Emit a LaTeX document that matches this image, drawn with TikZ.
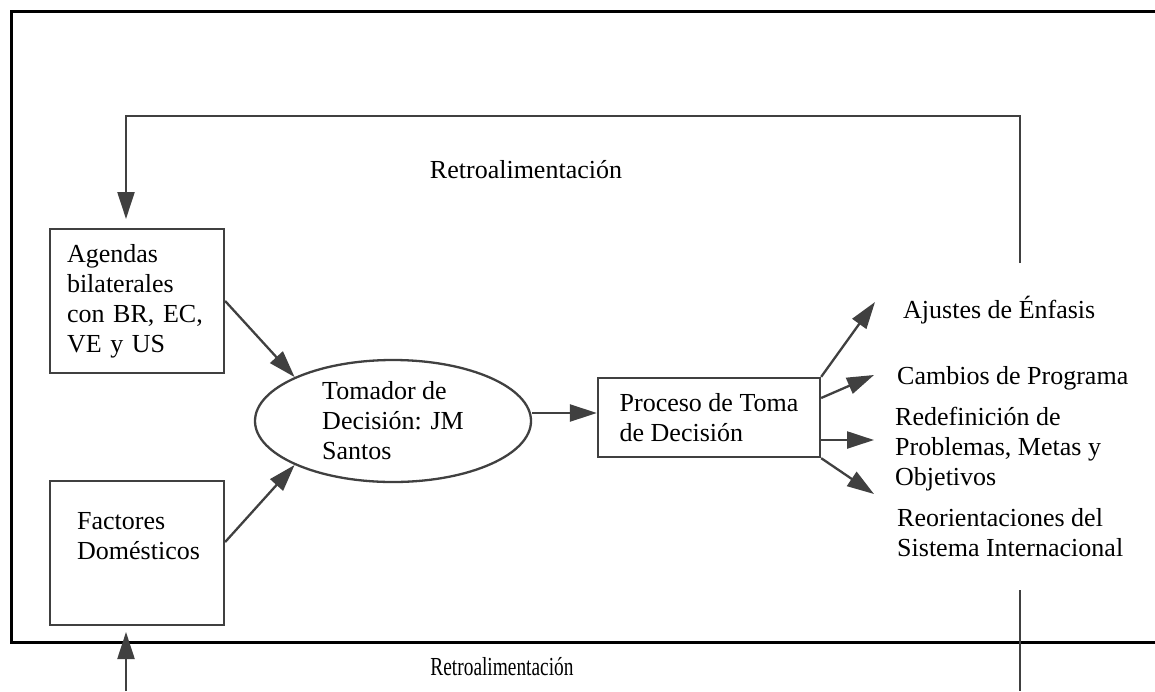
\documentclass[tikz,border=0pt]{standalone}
\usepackage{fontspec}
\setmainfont{Liberation Serif}
\usetikzlibrary{shapes.geometric,arrows.meta}
\begin{document}
\begin{tikzpicture}[x=1pt,y=-1pt,
  every node/.style={font=\fontsize{26}{30}\selectfont, inner sep=0pt, text=black},
  ln/.style={draw=black!75, line width=2.3pt},
  arr/.style={ln, -{Triangle[length=27pt,width=17pt]}},
  box/.style={ln, rectangle, minimum width=174pt, minimum height=144pt},
  lbl/.style={align=left, anchor=west},
  frame/.style={draw=black, line width=3pt}
]
\useasboundingbox[fill=white] (0,0) rectangle (1155,691);
% outer frame
\draw[frame] (1160,11) -- (11,11) -- (11,642) -- (1160,642);

% nodes
\node[box, text width=140pt, align=left] (ag) at (137,301) {Agendas\\bilaterales\\con BR, EC,\\VE y US};
\node[box] (fac) at (137,553) {};
\node[lbl] (factxt) at (77,536) {Factores\\Domésticos};
\node[ln, ellipse, minimum width=276pt, minimum height=122pt, align=left] (ell) at (393,421) {Tomador de\\Decisión: JM\\Santos};
\node[ln, rectangle, minimum width=222pt, minimum height=79pt, align=left] (proc) at (709,417.5) {Proceso de Toma\\de Decisión};

\node[lbl] (o1) at (903,310) {Ajustes de Énfasis};
\node[lbl] (o2) at (897,378) {Cambios de Programa};
\node[lbl] (o3) at (895,449) {Redefinición de\\Problemas, Metas y\\Objetivos};
\node[lbl] (o4) at (897,533) {Reorientaciones del\\Sistema Internacional};

\node (rtop) at (526,170) {Retroalimentación};
\node[xscale=0.745, transform shape] (rbot) at (502,667) {Retroalimentación};

% coordinates
\coordinate (e1) at (875,302);
\coordinate (e2) at (874,375);
\coordinate (e3) at (874,440);
\coordinate (e4) at (874,494);
\coordinate (tR) at (1020,263);
\coordinate (tL) at (126,116);
\coordinate (tE) at (126,219);
\coordinate (bR1) at (1020,590);
\coordinate (bR2) at (1020,691);
\coordinate (bL) at (126,691);
\coordinate (bE) at (126,632);

% connectors
\draw[arr] (ag.east) -- (ell.north west);
\draw[arr] ([yshift=11pt]fac.east) -- (ell.south west);
\draw[arr] ([yshift=8pt]ell.east) -- ([yshift=8pt]ell.east -| proc.west);
\draw[arr] (proc.north east) -- (e1);
\draw[arr] ([yshift=19.5pt]proc.east) -- (e2);
\draw[arr] ([yshift=-22.5pt]proc.east) -- (e3);
\draw[arr] (proc.south east) -- (e4);
\draw[arr] (tR) |- (tL) -- (tE);
\draw[ln] (bR1) -- (bR2);
\draw[arr] (bL) -- (bE);
\end{tikzpicture}
\end{document}
